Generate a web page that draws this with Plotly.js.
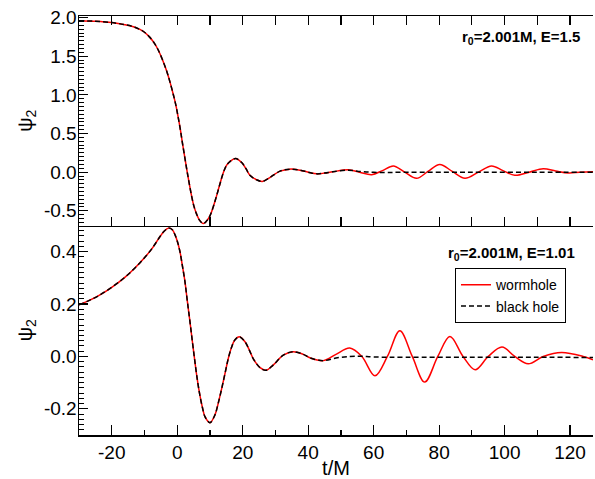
<!DOCTYPE html>
<html><head><meta charset="utf-8">
<script src="https://cdn.plot.ly/plotly-3.0.1.min.js"></script>
<style>html,body{margin:0;padding:0;background:#fff;} #chart{width:595px;height:479px;}</style>
</head><body><div id="chart"></div>
<script>
// ---------- DATA ----------
// Top panel (r0=2.001M, E=1.5): common ringdown part (both curves agree)
const tTopRing   = [-30, -25, -20, -16, -13.4, -11.4, -10, -8.5, -7, -5.8, -4.5, -3.2, -2.2, -1.2, -0.4, 0.3, 1.0, 1.55, 2.2, 2.9, 3.6, 4.4, 5.1, 5.9, 6.8, 7.96, 9.0, 10.0, 11.0, 12.0, 13.0, 14.1, 15.1, 16.1, 17.8, 19.7, 21.0, 22.2, 24.3, 26.0, 28.3, 31.4, 34.4, 37.5, 40.0, 42.6, 45];
const psiTopRing = [1.96, 1.952, 1.935, 1.908, 1.882, 1.846, 1.81, 1.75, 1.67, 1.58, 1.455, 1.305, 1.165, 1.005, 0.865, 0.71, 0.54, 0.39, 0.22, 0.04, -0.13, -0.31, -0.44, -0.54, -0.62, -0.665, -0.63, -0.565, -0.45, -0.31, -0.16, -0.005, 0.09, 0.137, 0.176, 0.124, 0.045, -0.04, -0.10, -0.12, -0.07, 0.013, 0.039, 0.026, 0.0, -0.022, -0.012];
// Top panel tails
const tTopWormTail   = [47.5, 52.3, 55.7, 59.4, 62.7, 66, 69.5, 73.1, 76.6, 80.2, 84, 87.9, 92, 96, 99.5, 103.1, 107.5, 111.8, 115.6, 119.4, 123, 127];
const psiTopWormTail = [0.005, 0.03, 0.0, -0.032, 0.02, 0.08, 0.0, -0.08, 0.01, 0.10, 0.01, -0.08, 0.0, 0.08, 0.02, -0.04, 0.0, 0.044, 0.015, -0.01, -0.002, 0.005];
const tTopBHTail   = [47.5, 52.3, 56, 60, 70, 90, 110, 127];
const psiTopBHTail = [0.005, 0.026, 0.008, -0.002, -0.002, -0.002, -0.002, -0.002];

// Bottom panel (r0=2.001M, E=1.01): common ringdown part
const tBotRing   = [-30, -27, -24, -20, -16, -13, -10, -8, -6.5, -5.3, -4, -2.7, -1.5, -0.69, 0.1, 0.84, 1.6, 2.37, 3.1, 3.9, 4.65, 5.4, 6.1, 6.9, 7.7, 8.47, 10.0, 11.5, 12.5, 13.6, 14.6, 15.6, 16.6, 17.6, 18.97, 20.7, 22.0, 23.2, 25.3, 27.1, 29.3, 32.4, 35.4, 38.5, 40.5, 44.6];
const psiBotRing = [0.197, 0.213, 0.232, 0.264, 0.302, 0.337, 0.377, 0.407, 0.434, 0.457, 0.478, 0.49, 0.484, 0.465, 0.437, 0.40, 0.345, 0.285, 0.21, 0.132, 0.055, -0.02, -0.085, -0.147, -0.195, -0.23, -0.253, -0.224, -0.18, -0.122, -0.065, -0.008, 0.035, 0.063, 0.075, 0.056, 0.025, -0.008, -0.043, -0.053, -0.033, 0.005, 0.018, 0.008, -0.005, -0.016];
// Bottom panel tails
const tBotWormTail   = [48.5, 52.7, 56.4, 60.4, 64.2, 68, 71.8, 75.6, 79.6, 83.3, 87.3, 91, 95, 99.2, 103.1, 107.2, 111.8, 117.4, 124, 127];
const psiBotWormTail = [0.008, 0.032, 0.0, -0.074, 0.0, 0.098, 0.0, -0.098, 0.0, 0.076, 0.0, -0.051, 0.0, 0.036, 0.0, -0.028, 0.0, 0.015, 0.0, -0.013];
const tBotBHTail   = [48.5, 52.7, 56, 60, 70, 90, 110, 127];
const psiBotBHTail = [-0.006, 0.0, 0.001, -0.002, -0.003, -0.003, -0.003, -0.004];

// Tick labels
const xTickVals = [-20, 0, 20, 40, 60, 80, 100, 120];
const xTickText = ['-20', '0', '20', '40', '60', '80', '100', '120'];
const topYTickVals = [-0.5, 0.0, 0.5, 1.0, 1.5, 2.0];
const topYTickText = ['-0.5', '0.0', '0.5', '1.0', '1.5', '2.0'];
const botYTickVals = [-0.2, 0.0, 0.2, 0.4];
const botYTickText = ['-0.2', '0.0', '0.2', '0.4'];

const seriesNames = ['wormhole', 'black hole'];
const topLabel = '<b>r<sub>0</sub>=2.001M, E=1.5</b>';
const botLabel = '<b>r<sub>0</sub>=2.001M, E=1.01</b>';

// ---------- CHART ----------
const FONT = '"Liberation Sans", Arial, Helvetica, sans-serif';
const xRange = [-30, 127];
const topYRange = [-0.69, 2.02];
const botYRange = [-0.3, 0.5];

const redLine = {color: '#ff0000', width: 1.5, shape: 'spline', smoothing: 1};
const blkLine = {color: '#000000', width: 1.5, dash: '5px,3px', shape: 'spline', smoothing: 1};

const traces = [
  {x: tTopRing.concat(tTopWormTail), y: psiTopRing.concat(psiTopWormTail), xaxis: 'x2', yaxis: 'y2',
   mode: 'lines', line: redLine, name: seriesNames[0], showlegend: false},
  {x: tTopRing.concat(tTopBHTail), y: psiTopRing.concat(psiTopBHTail), xaxis: 'x2', yaxis: 'y2',
   mode: 'lines', line: blkLine, name: seriesNames[1], showlegend: false},
  {x: tBotRing.concat(tBotWormTail), y: psiBotRing.concat(psiBotWormTail), xaxis: 'x', yaxis: 'y',
   mode: 'lines', line: redLine, name: seriesNames[0]},
  {x: tBotRing.concat(tBotBHTail), y: psiBotRing.concat(psiBotBHTail), xaxis: 'x', yaxis: 'y',
   mode: 'lines', line: blkLine, name: seriesNames[1]}
];

const tickFont = {family: FONT, size: 19, color: '#000'};
const titleFont = {family: FONT, size: 20, color: '#000'};
const common = {showline: true, linecolor: '#000', linewidth: 1.5, zeroline: false, showgrid: false,
  ticks: 'inside', tickcolor: '#000', tickwidth: 1.2, tickfont: tickFont, automargin: false, fixedrange: true};
const minorX = {dtick: 10, tick0: 0, ticklen: 5, ticks: 'inside', tickcolor: '#000', tickwidth: 1.2};

const layout = {
  width: 595, height: 479,
  margin: {l: 79, r: 2, t: 16, b: 44},
  paper_bgcolor: '#fff', plot_bgcolor: '#fff',
  font: {family: FONT, color: '#000'},
  showlegend: true,
  xaxis: Object.assign({}, common, {
    anchor: 'y', range: xRange, tickmode: 'array', tickvals: xTickVals, ticktext: xTickText,
    ticklen: 10, minor: minorX,
    title: {text: 't/M', font: titleFont, standoff: 2}
  }),
  xaxis2: Object.assign({}, common, {
    anchor: 'y2', range: xRange, tickmode: 'linear', tick0: 0, dtick: 10, ticklen: 9,
    showticklabels: false, mirror: 'ticks'
  }),
  xaxis3: Object.assign({}, common, {
    overlaying: 'x', anchor: 'y', side: 'top', range: xRange, tickmode: 'linear', tick0: 0, dtick: 10,
    ticklen: 9, showticklabels: false
  }),
  yaxis: Object.assign({}, common, {
    domain: [0, 0.5], anchor: 'x', range: botYRange, tickmode: 'array', tickvals: botYTickVals,
    ticktext: botYTickText, ticklen: 9, ticklabelstandoff: -3,
    minor: {dtick: 0.02, tick0: 0, ticklen: 5, ticks: 'inside', tickcolor: '#000', tickwidth: 1},
    title: {text: 'ψ<sub>2</sub>', font: titleFont, standoff: 6}
  }),
  yaxis2: Object.assign({}, common, {
    domain: [0.5, 1], anchor: 'x2', range: topYRange, tickmode: 'array', tickvals: topYTickVals,
    ticktext: topYTickText, ticklen: 9, ticklabelstandoff: -3,
    minor: {dtick: 0.05, tick0: 0, ticklen: 5, ticks: 'inside', tickcolor: '#000', tickwidth: 1},
    title: {text: 'ψ<sub>2</sub>', font: titleFont, standoff: 6}
  }),
  yaxis3: Object.assign({}, common, {
    overlaying: 'y', side: 'right', anchor: 'x', range: botYRange, tickmode: 'array',
    tickvals: botYTickVals, ticklen: 9, showticklabels: false
  }),
  yaxis4: Object.assign({}, common, {
    overlaying: 'y2', side: 'right', anchor: 'x2', range: topYRange, tickmode: 'array',
    tickvals: topYTickVals, ticklen: 9, showticklabels: false
  }),
  legend: {
    x: 0.7315, y: 0.398, xanchor: 'left', yanchor: 'top',
    bgcolor: '#fff', bordercolor: '#000', borderwidth: 1,
    font: {family: FONT, size: 14, color: '#000'}, tracegroupgap: 0
  },
  annotations: [
    {xref: 'paper', yref: 'paper', x: 0.978, y: 0.9475, xanchor: 'right', yanchor: 'middle',
     text: topLabel, showarrow: false, font: {family: FONT, size: 15, color: '#000'}},
    {xref: 'paper', yref: 'paper', x: 0.968, y: 0.434, xanchor: 'right', yanchor: 'middle',
     text: botLabel, showarrow: false, font: {family: FONT, size: 15, color: '#000'}}
  ]
};

Plotly.newPlot('chart', traces, layout, {displayModeBar: false, staticPlot: true});
</script>
</body></html>
